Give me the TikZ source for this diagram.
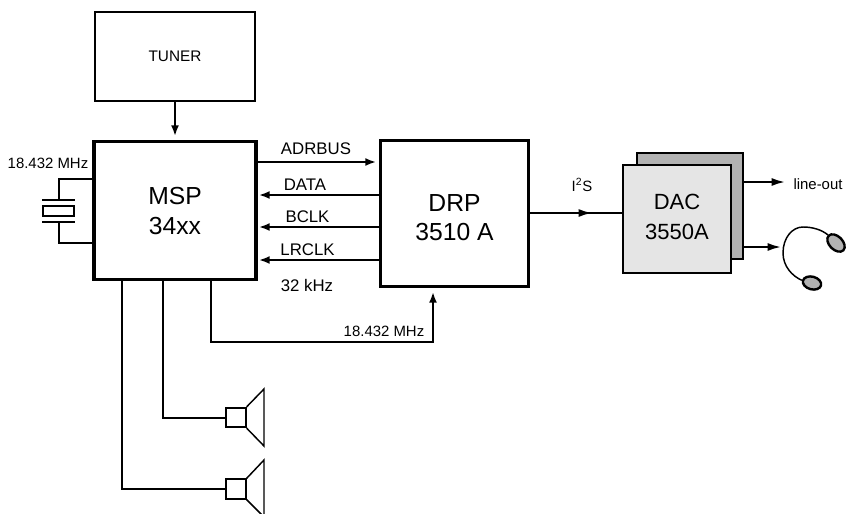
\documentclass[tikz,border=0pt]{standalone}
\usepackage{fontspec}
\setmainfont{Liberation Sans}
\usepackage{tikz}
\usetikzlibrary{positioning}
\usetikzlibrary{arrows.meta,shapes.geometric}
\tikzset{
  block/.style={draw, line width=2.4pt, inner sep=0pt},
  blocktext/.style={inner sep=0pt, align=center, font=\fontsize{18.5}{22}\selectfont},
  dactext/.style={inner sep=0pt, align=center, font=\fontsize{16.5}{23}\selectfont},
  small/.style={inner sep=0pt, font=\fontsize{11.2}{13}\selectfont},
  bus/.style={inner sep=0pt, font=\fontsize{12.6}{14}\selectfont},
  wire/.style={line width=1.5pt},
  sig/.style={line width=1.5pt, -{Latex[length=8pt,width=6pt]}},
  bigsig/.style={line width=1.5pt, -{Latex[length=10pt,width=6pt]}},
  speaker/.style={draw, line width=1.5pt, minimum size=14.5pt, inner sep=0pt},
  cone/.style={line width=1.1pt}
}
\begin{document}
\begin{tikzpicture}[x=0.75pt,y=-0.75pt]
\useasboundingbox (0,0) rectangle (846,514);

% main blocks
\node[block, line width=1.5pt, minimum width=120pt, minimum height=66.5pt, font=\fontsize{11.5}{13}\selectfont](tuner) at (175,56.5) {TUNER};
\node[block, minimum width=121.5pt, minimum height=104pt](msp) at (175,210.5) {};
\node[blocktext](msptext) at (175,211) {MSP\\34xx};
\node[block, minimum width=111pt, minimum height=110pt](drp) at (454.5,213.5) {};
\node[blocktext](drptext) at (454.5,217.5) {DRP\\3510 A};
\node[block, fill=black!30, minimum width=79.5pt, minimum height=79.5pt, line width=2pt](dacback) at (690,206) {};
\node[block, fill=black!10, minimum width=81pt, minimum height=81pt, line width=2pt](dac) at (677,219) {};
\node[dactext](dactext) at (677,217) {DAC\\3550A};

% crystal
\coordinate (xtop) at (59,179);
\coordinate (xbot) at (59,243);
\node[draw, wire, minimum width=23pt, minimum height=7.5pt, inner sep=0pt](xtal) at (58.5,211) {};
\draw[wire] (42,200) -- (75,200);
\draw[wire] (42,222) -- (75,222);
\draw[wire] (96,179) -- (xtop) -- (59,200);
\draw[wire] (96,243) -- (xbot) -- (59,222);

% signals
\draw[sig] (tuner.south) -- (msp.north |- 0,136);
\draw[sig] (msp.east |- 0,162) -- (376,162);
\draw[sig] (drp.west |- 0,195) -- (259,195);
\draw[sig] (drp.west |- 0,227) -- (259,227);
\draw[sig] (drp.west |- 0,260) -- (259,260);
\draw[sig] (211,281) -- (211,342) -- (433,342) -- (433,292);
\draw[wire] (drp.east |- 0,213) -- (dac.west |- 0,213);
\draw[bigsig] (drp.east |- 0,213) -- (592,213);
\draw[bigsig] (dacback.east |- 0,182) -- (785,182);
\draw[bigsig] (dacback.east |- 0,247) -- (781,247);

% speakers
\node[speaker](spka) at (236,417.5) {};
\node[speaker](spkb) at (236,489) {};
\draw[wire] (163,281) |- (spka.west);
\draw[wire] (122,281) |- (spkb.west);
\draw[cone] (spka.north east) -- (264,389) -- (264,446) -- (spka.south east);
\draw[cone] (spkb.north east) -- (264,460) -- (264,517) -- (spkb.south east);

% headphones
\node[draw, line width=1.8pt, fill=black!30, ellipse, minimum width=15.5pt, minimum height=10pt, inner sep=0pt, rotate=-45](cupa) at (836,243) {};
\node[draw, line width=1.8pt, fill=black!30, ellipse, minimum width=14pt, minimum height=9.5pt, inner sep=0pt, rotate=-15](cupb) at (812,283) {};
\draw[line width=1.1pt] (cupa.west) .. controls (822,230) and (813,227) .. (803,227) .. controls (792,227) and (783,238) .. (783,253) .. controls (783,266) and (792,276) .. (cupb.west);

% labels
\node[small](xlabel) at (48,163) {18.432 MHz};
\node[bus](adrbus) at (316,149) {ADRBUS};
\node[bus](data) at (305,185) {DATA};
\node[bus](bclk) at (307.5,217) {BCLK};
\node[bus](lrclk) at (307.5,250) {LRCLK};
\node[bus](khz) at (307,285) {32 kHz};
\node[small](clk) at (384,331) {18.432 MHz};
\node[small](iis) at (582,185) {I\textsuperscript{2}S};
\node[small](lineout) at (818,184) {line-out};

\end{tikzpicture}
\end{document}
